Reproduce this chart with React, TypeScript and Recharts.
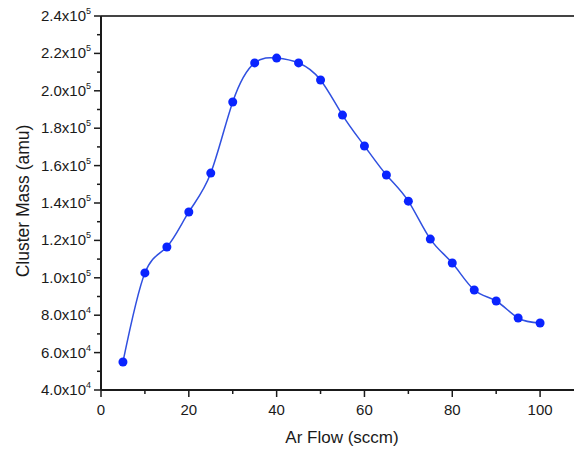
import { LineChart, Line, XAxis, YAxis, ReferenceLine } from 'recharts'

const flow = [5, 10, 15, 20, 25, 30, 35, 40, 45, 50, 55, 60, 65, 70, 75, 80, 85, 90, 95, 100]
const mass = [
  55000, 102600, 116500, 135200, 156000, 194000, 214900, 217500, 214900, 205800,
  187000, 170500, 155000, 141000, 120700, 107900, 93500, 87600, 78500, 75800,
]
const xTicks = [0, 10, 20, 30, 40, 50, 60, 70, 80, 90, 100, 110]
const yTicks = [
  40000, 50000, 60000, 70000, 80000, 90000, 100000, 110000, 120000, 130000, 140000,
  150000, 160000, 170000, 180000, 190000, 200000, 210000, 220000, 230000, 240000,
]

const data = flow.map((f, i) => ({ flow: f, mass: mass[i] }))

const INK = '#1a1a1a'
const FONT = '"Liberation Sans", Arial, sans-serif'

const YTick = ({ x, y, payload }: any) => {
  const v = payload.value as number
  const major = v % 20000 === 0
  const exp = Math.floor(Math.log10(v))
  const mant = (v / Math.pow(10, exp)).toFixed(1)
  return (
    <g>
      <line x1={x} x2={x - (major ? 7 : 4)} y1={y} y2={y} stroke={INK} strokeWidth={1.5} />
      {major && (
        <text x={x - 10} y={y + 5} textAnchor="end" fontSize={15} fill={INK} fontFamily={FONT}>
          <tspan>{mant}x10</tspan>
          <tspan dy={-7} fontSize={9}>{exp}</tspan>
        </text>
      )}
    </g>
  )
}

const XTick = ({ x, y, payload }: any) => {
  const v = payload.value as number
  const major = v % 20 === 0
  return (
    <g>
      <line x1={x} x2={x} y1={y} y2={y + (major ? 7 : 4)} stroke={INK} strokeWidth={1.5} />
      {major && (
        <text x={x} y={y + 25} textAnchor="middle" fontSize={15} fill={INK} fontFamily={FONT}>
          {v}
        </text>
      )}
    </g>
  )
}

export default function App() {
  return (
    <div style={{ position: 'absolute', left: 0, top: 0, width: 574, height: 450, overflow: 'hidden', background: '#fff' }}>
      <LineChart width={600} height={450} data={data} margin={{ top: 16, right: 16, bottom: 30, left: 0 }}>
        <XAxis
          dataKey="flow"
          type="number"
          domain={[0, 110]}
          ticks={xTicks}
          interval={0}
          height={30}
          tickSize={0}
          tickMargin={0}
          tickLine={false}
          tick={<XTick />}
          axisLine={{ stroke: INK, strokeWidth: 2 }}
          allowDataOverflow
        />
        <YAxis
          type="number"
          domain={[40000, 240000]}
          ticks={yTicks}
          interval={0}
          width={101}
          tickSize={0}
          tickMargin={0}
          tickLine={false}
          tick={<YTick />}
          axisLine={{ stroke: INK, strokeWidth: 2 }}
          allowDataOverflow
        />
        <ReferenceLine y={240000} stroke="#444" strokeWidth={2} />
        <ReferenceLine x={110} stroke="#444" strokeWidth={2} />
        <Line
          dataKey="mass"
          type="natural"
          stroke="#3050e0"
          strokeWidth={1.5}
          dot={{ r: 4.5, fill: '#0a24ff', stroke: 'none' }}
          isAnimationActive={false}
        />
      </LineChart>
      <svg width={574} height={450} style={{ position: 'absolute', left: 0, top: 0, pointerEvents: 'none' }}>
        <text x={342} y={443} textAnchor="middle" fontSize={17} fill={INK} fontFamily={FONT}>
          Ar Flow (sccm)
        </text>
        <text
          x={0}
          y={0}
          transform="translate(29,201) rotate(-90)"
          textAnchor="middle"
          fontSize={17.5}
          fill={INK}
          fontFamily={FONT}
        >
          Cluster Mass (amu)
        </text>
      </svg>
    </div>
  )
}
